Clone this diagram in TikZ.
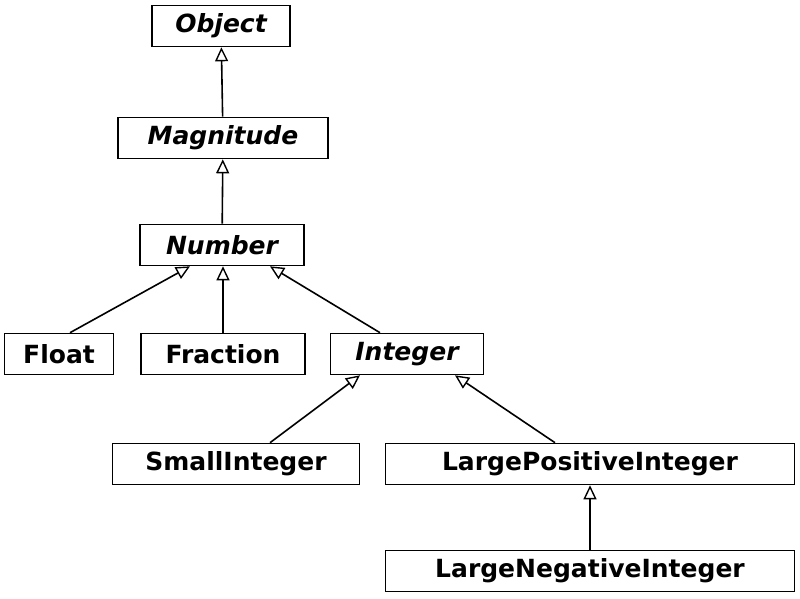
\documentclass[tikz,border=0pt]{standalone}
\usepackage{fontspec}
\setmainfont{DejaVu Sans}
\usetikzlibrary{arrows.meta}
\tikzset{
  cls/.style={draw,line width=1.6pt,minimum height=41pt,inner sep=0pt,
    font=\fontsize{25}{30}\selectfont\bfseries},
  abstr/.style={cls,font=\fontsize{25}{30}\selectfont\bfseries\itshape},
  isa/.style={line width=1.6pt,-{Triangle[open,length=14pt,width=13pt,line width=1.4pt]}}
}
\begin{document}
\begin{tikzpicture}[x=1pt,y=1pt]
  \useasboundingbox (0,0) rectangle (800,-598);
  \node[abstr,minimum width=138pt] (object) at (221,-26) {Object};
  \node[abstr,minimum width=210pt] (magnitude) at (223,-138) {Magnitude};
  \node[abstr,minimum width=164pt] (number) at (222,-245) {Number};
  \node[cls,minimum width=109pt] (float) at (59,-354) {Float};
  \node[cls,minimum width=164pt] (fraction) at (223,-354) {Fraction};
  \node[abstr,minimum width=153pt] (integer) at (407,-354) {Integer};
  \node[cls,minimum width=247pt] (small) at (236,-464) {SmallInteger};
  \node[cls,minimum width=409pt] (lpi) at (590,-464) {LargePositiveInteger};
  \node[cls,minimum width=409pt] (lni) at (590,-571) {LargeNegativeInteger};
  % inheritance
  \draw[isa] (magnitude) -- (object);
  \draw[isa] (number) -- (magnitude);
  \draw[isa] ([xshift=11pt]float.north) -- ([xshift=-32pt]number.south);
  \draw[isa] (fraction) -- (fraction |- number.south);
  \draw[isa] ([xshift=-27pt]integer.north) -- ([xshift=48pt]number.south);
  \draw[isa] ([xshift=34pt]small.north) -- ([xshift=-47pt]integer.south);
  \draw[isa] ([xshift=-35pt]lpi.north) -- ([xshift=48pt]integer.south);
  \draw[isa] (lni) -- (lpi);
\end{tikzpicture}
\end{document}
